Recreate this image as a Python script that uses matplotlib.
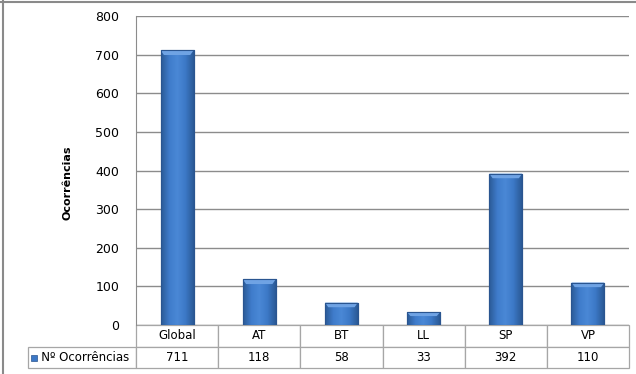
import numpy as np
import matplotlib
matplotlib.use("Agg")
import matplotlib.pyplot as plt
from matplotlib.colors import LinearSegmentedColormap
from matplotlib.patches import Rectangle, Polygon
from matplotlib.lines import Line2D

categories = ["Global", "AT", "BT", "LL", "SP", "VP"]
values = [711, 118, 58, 33, 392, 110]
series_name = "Nº Ocorrências"
yticks = [0, 100, 200, 300, 400, 500, 600, 700, 800]

plt.rcParams["font.family"] = ["DejaVu Sans"]
plt.rcParams["font.size"] = 8

W, H = 636, 374
fig = plt.figure(figsize=(W / 100, H / 100), dpi=100)
ax_l, ax_r, ax_b, ax_t = 136, 629, 325, 16
ax = fig.add_axes([ax_l / W, (H - ax_b) / H, (ax_r - ax_l) / W, (ax_b - ax_t) / H])

grid_c = "#8c8c8c"
ax.set_ylim(0, 800)
ax.set_xlim(-0.5, len(categories) - 0.5)
ax.set_yticks(yticks)
ax.set_xticks([])
ax.yaxis.grid(True, color=grid_c, linewidth=1)
ax.set_axisbelow(True)
ax.tick_params(axis="y", length=0, pad=12, labelsize=9)
for s in ["top", "right", "bottom"]:
    ax.spines[s].set_visible(False)
ax.spines["left"].set_color(grid_c)
ax.set_ylabel("Ocorrências", fontweight="bold", fontsize=8)
ax.yaxis.set_label_coords(-0.128, 0.46)

# bars with a shaded gradient like the excel bevel
cmap = LinearSegmentedColormap.from_list(
    "bev", ["#2b5a96", "#3f7ccb", "#4a88d6", "#3c78c6", "#2b5a96"])
bw = 0.4
grad = np.linspace(0, 1, 64)[None, :]
bars = ax.bar(range(len(values)), values, width=bw, color="#3c78c6",
              edgecolor="#2a5590", linewidth=0.8, zorder=3)
for b in bars:
    x0 = b.get_x()
    x1, v = x0 + b.get_width(), b.get_height()
    im = ax.imshow(grad, extent=[x0, x1, 0, v], aspect="auto", cmap=cmap, zorder=3.5)
    im.set_clip_path(b)
    d, h = 0.04, min(12, v * 0.3)
    top = Polygon([(x0, v), (x1, v), (x1 - d, v - h), (x0 + d, v - h)],
                  closed=True, facecolor="#6fa3e4", edgecolor="none", zorder=4)
    ax.add_patch(top)
    ax.add_patch(Rectangle((x0, 0), x1 - x0, v, fill=False, edgecolor="#2a5590",
                           linewidth=0.8, zorder=4.5))
ax.set_ylim(0, 800)
ax.set_xlim(-0.5, len(categories) - 0.5)

# data table under the plot
tab_left, tab_bot = 28, 368
aw, ah = ax_r - ax_l, ax_b - ax_t
lab_w = (ax_l - tab_left) / aw
col_w = 1.0 / len(categories)
cell_text = [[""] + categories, ["   " + series_name] + [str(v) for v in values]]
tbl = ax.table(cellText=cell_text, colWidths=[lab_w] + [col_w] * len(categories),
               cellLoc="center",
               bbox=[-lab_w, -(tab_bot - ax_b) / ah, 1 + lab_w, (tab_bot - ax_b) / ah])
tbl.auto_set_font_size(False)
tbl.set_fontsize(8.5)
for (r, c), cell in tbl.get_celld().items():
    cell.set_edgecolor("#a6a6a6")
    cell.set_linewidth(0.9)
    if r == 0 and c == 0:
        cell.visible_edges = ""
    if c == 0 and r == 1:
        cell._loc = "left"
        cell.PAD = 0.02
tbl.get_celld()[(1, 0)].get_text().set_horizontalalignment("left")

# legend key square in the row label
fig.patches.append(Rectangle((31 / W, (H - 361) / H), 6 / W, 6 / H,
                             transform=fig.transFigure, facecolor="#3c78c6",
                             edgecolor="#2a5590", linewidth=0.5))

# outer frame lines (top and left)
fig.lines.append(Line2D([0, 1], [1 - 1.5 / H, 1 - 1.5 / H], transform=fig.transFigure,
                        color="#8a8a8a", linewidth=1.5))
fig.lines.append(Line2D([3 / W, 3 / W], [0, 1], transform=fig.transFigure,
                        color="#8a8a8a", linewidth=1.5))

fig.savefig("out.png", dpi=100)
